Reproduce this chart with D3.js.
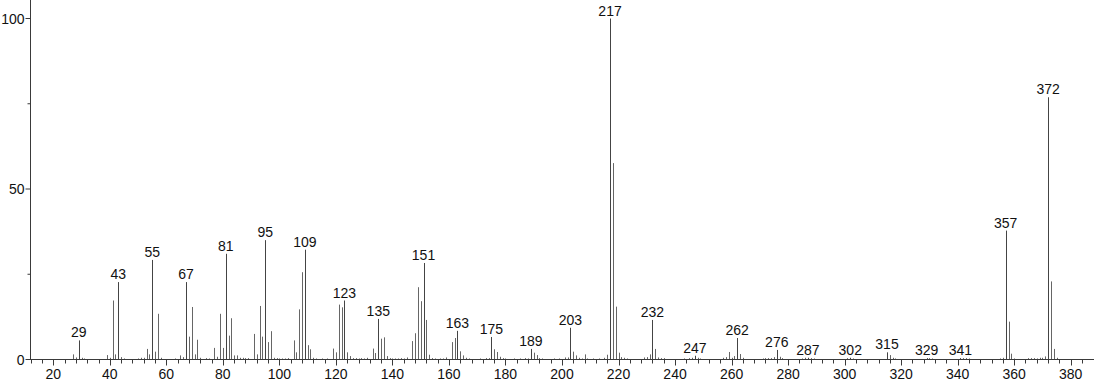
<!DOCTYPE html>
<html>
<head>
<meta charset="utf-8">
<script src="https://cdn.jsdelivr.net/npm/d3@7"></script>
<style>
  html, body { margin: 0; padding: 0; background: #fff; }
  svg { display: block; font-family: "Liberation Sans", Arial, Helvetica, sans-serif; }
</style>
</head>
<body>
<div id="chart"></div>
<script>
// m/z values and relative intensities (%)
const masses = [
  27, 28, 29, 30, 31,
  39, 40, 41, 42, 43, 44, 45,
  50, 51, 52, 53, 54, 55, 56, 57, 58,
  63, 65, 66, 67, 68, 69, 70, 71, 72, 74, 75,
  77, 78, 79, 80, 81, 82, 83, 84, 85, 86, 87, 88, 89,
  91, 92, 93, 94, 95, 96, 97, 98, 99, 100, 101, 102, 103,
  105, 106, 107, 108, 109, 110, 111, 112, 113, 115, 117,
  119, 120, 121, 122, 123, 124, 125, 126, 127, 128, 129, 130, 131,
  133, 134, 135, 136, 137, 138, 139, 140, 141, 142, 143, 144, 145,
  147, 148, 149, 150, 151, 152, 153, 154, 155, 157, 158, 159,
  161, 162, 163, 164, 165, 166, 167,
  171, 173, 174, 175, 176, 177, 178, 179, 180,
  183, 185, 187, 188, 189, 190, 191, 192, 193,
  197, 199, 201, 202, 203, 204, 205, 206, 207, 208, 209, 211, 213, 215,
  216, 217, 218, 219, 220, 221, 222, 223,
  229, 230, 231, 232, 233, 234, 235, 236,
  243, 245, 246, 247, 248, 249,
  257, 258, 259, 260, 261, 262, 263, 264,
  271, 272, 273, 274, 275, 276, 277, 278,
  285, 286, 287, 288, 289,
  301, 302, 303,
  315, 316, 317, 318,
  329, 330, 331,
  341, 342, 343, 344,
  355, 356, 357, 358, 359, 360,
  365, 366, 367, 368, 369, 370, 371, 372, 373, 374, 375
];
const intensities = [
  1.5, 0.6, 5.6, 0.5, 0.3,
  1.3, 0.5, 17.3, 1.5, 22.7, 0.7, 0.3,
  0.3, 0.5, 0.5, 3.1, 1.5, 29.2, 2.3, 13.4, 0.5,
  0.3, 1.2, 0.7, 22.7, 6.7, 15.4, 1.5, 5.8, 0.5, 0.4, 0.3,
  3.4, 0.8, 13.4, 3.4, 31.0, 7.0, 12.1, 1.2, 1.2, 0.5, 0.5, 0.4, 0.4,
  7.5, 1.5, 15.7, 6.7, 35.0, 5.1, 8.3, 0.5, 0.4, 0.3, 0.3, 0.3, 0.4,
  5.6, 2.1, 14.7, 25.6, 32.2, 4.2, 3.0, 0.5, 0.3, 0.3, 0.3,
  3.2, 2.1, 16.1, 15.3, 17.3, 2.1, 1.0, 0.4, 0.4, 0.3, 0.4, 0.3, 0.5,
  3.2, 1.9, 11.9, 6.1, 6.5, 1.0, 0.4, 0.3, 0.3, 0.3, 0.4, 0.3, 0.6,
  5.4, 7.7, 21.2, 17.1, 28.3, 11.6, 1.4, 0.4, 0.3, 0.3, 0.3, 0.6,
  5.1, 6.3, 8.4, 2.4, 1.2, 0.5, 0.3,
  0.3, 0.4, 0.4, 6.6, 3.0, 2.2, 0.8, 0.4, 0.3,
  0.3, 0.3, 0.4, 0.3, 3.1, 2.0, 1.3, 0.4, 0.3,
  0.3, 0.3, 0.6, 0.6, 9.3, 2.3, 1.2, 0.5, 0.3, 1.5, 0.3, 0.3, 0.3, 0.5,
  1.4, 100, 57.6, 15.5, 2.0, 0.7, 0.5, 0.3,
  0.6, 0.7, 1.5, 11.6, 3.1, 0.6, 0.4, 0.4,
  0.3, 0.4, 0.5, 1.1, 0.5, 0.3,
  0.5, 0.7, 2.2, 0.5, 1.0, 6.3, 1.6, 0.5,
  0.3, 0.4, 0.4, 0.4, 0.7, 2.8, 0.8, 0.4,
  0.3, 0.5, 0.5, 0.4, 0.3,
  0.4, 0.5, 0.3,
  2.1, 1.3, 0.5, 0.3,
  0.4, 0.4, 0.3,
  0.4, 0.4, 0.4, 0.3,
  0.3, 0.5, 37.8, 11.1, 1.7, 0.3,
  0.4, 0.4, 0.4, 0.3, 0.5, 0.5, 0.9, 76.9, 22.9, 3.1, 0.5
];
const labelled = [29, 43, 55, 67, 81, 95, 109, 123, 135, 151, 163, 175, 189,
  203, 217, 232, 247, 262, 276, 287, 302, 315, 329, 341, 357, 372];
const xTicks = d3.range(20, 381, 20);
const yTicks = [0, 50, 100];

const width = 1094, height = 384;
const peaks = masses.map((m, i) => ({ mz: m, val: intensities[i] }));

const svg = d3.select("#chart").append("svg")
  .attr("width", width)
  .attr("height", height);

/* scales */
const x = d3.scaleLinear().domain([20, 380]).range([53.3, 1070.7]);
const y = d3.scaleLinear().domain([0, 100]).range([359.5, 18.5]);
const axisColor = "#3a3a3a";

/* peaks */
svg.append("g")
  .selectAll("line")
  .data(peaks)
  .enter()
  .append("line")
  .attr("x1", d => Math.round(x(d.mz)) + 0.5)
  .attr("x2", d => Math.round(x(d.mz)) + 0.5)
  .attr("y1", y(0))
  .attr("y2", d => y(d.val))
  .attr("stroke", d => labelled.includes(d.mz) ? "#444" : "#666")
  .attr("stroke-width", 1);

/* peak labels */
svg.append("g")
  .selectAll("text")
  .data(peaks.filter(d => labelled.includes(d.mz)))
  .enter()
  .append("text")
  .attr("x", d => x(d.mz))
  .attr("y", d => y(d.val) - 3)
  .attr("text-anchor", "middle")
  .attr("font-size", 14)
  .attr("fill", "#111")
  .text(d => d.mz);

/* x axis */
const xAxis = svg.append("g").attr("transform", "translate(0,359.5)");
xAxis.append("line")
  .attr("x1", 30).attr("x2", width)
  .attr("stroke", axisColor);

xAxis.selectAll(".minor")
  .data(d3.range(12, 388, 4).filter(v => v % 20 !== 0))
  .enter()
  .append("line")
  .attr("class", "minor")
  .attr("x1", d => Math.round(x(d)) + 0.5)
  .attr("x2", d => Math.round(x(d)) + 0.5)
  .attr("y1", 0).attr("y2", 4)
  .attr("stroke", axisColor);

xAxis.selectAll(".major")
  .data(xTicks)
  .enter()
  .append("line")
  .attr("class", "major")
  .attr("x1", d => Math.round(x(d)) + 0.5)
  .attr("x2", d => Math.round(x(d)) + 0.5)
  .attr("y1", 0).attr("y2", 6)
  .attr("stroke", axisColor);

xAxis.selectAll(".lbl")
  .data(xTicks)
  .enter()
  .append("text")
  .attr("class", "lbl")
  .attr("x", d => x(d))
  .attr("y", 19)
  .attr("text-anchor", "middle")
  .attr("font-size", 14)
  .attr("fill", "#111")
  .text(d => d);

/* y axis */
const yAxis = svg.append("g").attr("transform", "translate(30.5,0)");
yAxis.append("line")
  .attr("y1", 0).attr("y2", 359.5)
  .attr("stroke", axisColor);

yAxis.selectAll(".minor")
  .data([25, 75])
  .enter()
  .append("line")
  .attr("y1", d => y(d)).attr("y2", d => y(d))
  .attr("x1", -3).attr("x2", 0)
  .attr("stroke", axisColor);

yAxis.selectAll(".major")
  .data(yTicks)
  .enter()
  .append("line")
  .attr("y1", d => y(d)).attr("y2", d => y(d))
  .attr("x1", -5).attr("x2", 0)
  .attr("stroke", axisColor);

yAxis.selectAll(".lbl")
  .data(yTicks)
  .enter()
  .append("text")
  .attr("x", -6)
  .attr("y", d => y(d) + 5)
  .attr("text-anchor", "end")
  .attr("font-size", 14)
  .attr("fill", "#111")
  .text(d => d);
</script>
</body>
</html>
